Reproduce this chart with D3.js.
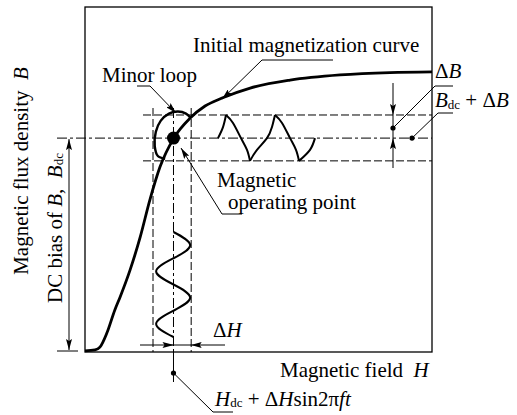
<!DOCTYPE html>
<html><head><meta charset="utf-8">
<script src="https://cdn.jsdelivr.net/npm/d3@7"></script>
<style>
html,body{margin:0;padding:0;background:#fff;}
svg{display:block;background:#fff;}
text{font-family:"Liberation Serif","Times New Roman","DejaVu Serif",serif;font-size:21px;fill:#000;}
</style></head><body>
<svg id="chart" width="517" height="415"></svg>
<script>
// ---------- data (arbitrary units: H and B on 0..10) ----------
const curveH = [0, 0.29, 0.43, 0.63, 0.86, 1.01, 1.30, 1.59, 1.87, 2.16, 2.56, 3.03, 3.46, 3.95, 4.76, 5.91, 7.35, 8.79, 10];
const curveB = [0.03, 0.06, 0.14, 0.55, 1.22, 1.59, 2.38, 3.33, 4.41, 5.36, 6.20, 6.78, 7.13, 7.36, 7.65, 7.88, 8.03, 8.10, 8.12];
const loopH = [2.31, 2.10, 2.01, 2.04, 2.18, 2.42, 2.68, 2.91, 3.05];
const loopB = [5.60, 5.68, 5.97, 6.38, 6.70, 6.91, 6.97, 6.91, 6.78];
const Hdc = 2.55, Bdc = 6.20;
const hGuides = [1.96, 3.06];          // vertical dashed lines (H)
const bGuides = [5.54, 6.87];          // horizontal dashed lines (B)
const sineT = [0, 0.25, 0.5, 0.75, 1, 1.25, 1.5, 1.75, 2];   // cycles, time runs downward
const sineH = [2.55, 3.03, 2.55, 2.05, 2.55, 3.03, 2.55, 2.05, 2.55];
const waveT = [0, 1.03, 1.65, 3.09, 4.74, 5.98, 6.60, 8.04, 10.10, 11.13, 11.75, 13.20, 14.85, 16.08, 16.70, 18.97, 20.0]; // ms, time runs right
const waveB = [6.20, 6.52, 6.87, 6.64, 6.20, 5.86, 5.54, 5.86, 6.20, 6.52, 6.87, 6.64, 6.20, 5.86, 5.54, 5.86, 6.20];
const xTitle = ["Magnetic field", "H"];
const yTitle = ["Magnetic flux density", "B"];
const biasTitle = ["DC bias of ", "B", ", ", "B", "dc"];

// ---------- scales ----------
const svg = d3.select("#chart");
const x = d3.scaleLinear().domain([0, 10]).range([85, 432]);
const y = d3.scaleLinear().domain([0, 10]).range([352, 7]);
const tY = d3.scaleLinear().domain([0, 2]).range([232, 337]);
const tX = d3.scaleLinear().domain([0, 20]).range([218, 315]);

const defs = svg.append("defs");
defs.append("marker").attr("id", "arr").attr("viewBox", "0 0 11 6")
  .attr("refX", 11).attr("refY", 3).attr("markerWidth", 11).attr("markerHeight", 6)
  .attr("markerUnits", "userSpaceOnUse").attr("orient", "auto-start-reverse")
  .append("path").attr("d", "M0,0 L11,3 L0,6 L2,3 Z").attr("fill", "#000");

function seg(x1, y1, x2, y2, opt = {}) {
  const l = svg.append("line").attr("x1", x1).attr("y1", y1).attr("x2", x2).attr("y2", y2)
    .attr("stroke", "#000").attr("stroke-width", opt.w || 1);
  if (opt.dash) l.attr("stroke-dasharray", opt.dash);
  if (opt.end) l.attr("marker-end", "url(#arr)");
  if (opt.start) l.attr("marker-start", "url(#arr)");
  return l;
}
function poly(pts, opt = {}) {
  const p = svg.append("polyline").attr("points", pts.map(d => d.join(",")).join(" "))
    .attr("fill", "none").attr("stroke", "#000").attr("stroke-width", opt.w || 1);
  if (opt.end) p.attr("marker-end", "url(#arr)");
  return p;
}
function dot(cx, cy, r) { svg.append("circle").attr("cx", cx).attr("cy", cy).attr("r", r).attr("fill", "#000"); }

// ---------- frame ----------
svg.append("rect").attr("x", x(0)).attr("y", y(10)).attr("width", x(10) - x(0)).attr("height", y(0) - y(10))
  .attr("fill", "none").attr("stroke", "#000").attr("stroke-width", 1.3);

// ---------- guide lines ----------
const DD = "10,3,3,3", DS = "8,3";
seg(57, y(Bdc), x(10), y(Bdc), { dash: DD });
bGuides.forEach(b => seg(143, y(b), x(10), y(b), { dash: DS }));
hGuides.forEach(h => seg(x(h), 108, x(h), y(0), { dash: DS }));
seg(x(Hdc), 108, x(Hdc), y(0), { dash: DD });
seg(x(Hdc), y(0), x(Hdc), 382);

// DC bias arrow
seg(57, y(0) - 1, 78, y(0) - 1);
seg(69, y(Bdc) + 1, 69, y(0) - 2, { start: true, end: true });

// ---------- curves ----------
const line = d3.line().x(d => x(d[0])).y(d => y(d[1]));
svg.append("path").datum(curveH.map((h, i) => [h, curveB[i]]))
  .attr("d", line.curve(d3.curveMonotoneX)).attr("fill", "none").attr("stroke", "#000").attr("stroke-width", 2.8);
svg.append("path").datum(loopH.map((h, i) => [h, loopB[i]]))
  .attr("d", d3.line().x(d => x(d[0])).y(d => y(d[1])).curve(d3.curveCatmullRom))
  .attr("fill", "none").attr("stroke", "#000").attr("stroke-width", 2.4);

// sine H(t)
svg.append("path").datum(sineT.map((t, i) => [sineH[i], t]))
  .attr("d", d3.line().x(d => x(d[0])).y(d => tY(d[1])).curve(d3.curveNatural))
  .attr("fill", "none").attr("stroke", "#000").attr("stroke-width", 2);

// B(t) wave, split at cusps
const wpts = waveT.map((t, i) => [t, waveB[i]]);
let start = 0;
const segs = [];
for (let i = 1; i < wpts.length - 1; i++) {
  if ((waveB[i] - waveB[i - 1]) * (waveB[i + 1] - waveB[i]) < 0) { segs.push(wpts.slice(start, i + 1)); start = i; }
}
segs.push(wpts.slice(start));
const wline = d3.line().x(d => tX(d[0])).y(d => y(d[1])).curve(d3.curveNatural);
segs.forEach(s => svg.append("path").attr("d", wline(s)).attr("fill", "none").attr("stroke", "#000").attr("stroke-width", 2));

// operating point
dot(x(Hdc), y(Bdc), 6.5);

// ---------- ΔH arrows ----------
const yH = 345;
seg(140, yH, x(Hdc), yH, { end: true });
seg(225, yH, x(hGuides[1]) - 0.5, yH, { end: true });
seg(x(Hdc), yH, x(hGuides[1]), yH);

// ---------- ΔB arrows ----------
const xB = 393;
seg(xB, 83, xB, y(bGuides[1]), { end: true });
seg(xB, 168, xB, y(Bdc), { end: true });
seg(xB, y(bGuides[1]), xB, y(Bdc));

// ---------- leaders ----------
// Initial magnetization curve
poly([[333, 60], [262, 60], [x(3.95), y(7.36) + 1]], { end: true });
// Minor loop
poly([[137, 86], [150, 86], [176, 113]], { end: true });
// Magnetic operating point
poly([[242, 214], [222, 214], [181, 148]], { end: true });
// ΔB
dot(xB, 128, 2.6);
poly([[xB, 128], [435, 86], [453, 86]]);
// Bdc + ΔB
dot(412, y(Bdc), 2.6);
poly([[412, y(Bdc)], [438, 113], [453, 113]]);
// Hdc + ΔH sin
dot(x(Hdc), 373, 2.6);
poly([[x(Hdc), 373], [213, 412], [233, 412]]);

// ---------- texts ----------
function txt(xx, yy) { return svg.append("text").attr("x", xx).attr("y", yy); }
txt(193, 52).text("Initial magnetization curve");
txt(102, 82).text("Minor loop");
txt(217, 187).attr("font-size", 20.5).text("Magnetic");
txt(228, 209).attr("font-size", 20.5).text("operating point");

const tdb = txt(435, 78);
tdb.append("tspan").text("Δ");
tdb.append("tspan").attr("font-style", "italic").text("B");

const tbdc = txt(435, 107);
tbdc.append("tspan").attr("font-style", "italic").text("B");
tbdc.append("tspan").attr("font-size", 13).attr("dy", 2).text("dc");
tbdc.append("tspan").attr("dy", -2).text(" + Δ");
tbdc.append("tspan").attr("font-style", "italic").text("B");

const tdh = txt(213, 337);
tdh.append("tspan").text("Δ");
tdh.append("tspan").attr("font-style", "italic").text("H");

const thdc = txt(215, 406);
thdc.append("tspan").attr("font-style", "italic").text("H");
thdc.append("tspan").attr("font-size", 13).attr("dy", 1).text("dc");
thdc.append("tspan").attr("dy", -1).text(" + Δ");
thdc.append("tspan").attr("font-style", "italic").text("H");
thdc.append("tspan").text("sin2π");
thdc.append("tspan").attr("font-style", "italic").text("ft");

const tx = txt(280, 377);
tx.append("tspan").text(xTitle[0] + "\u00a0\u00a0");
tx.append("tspan").attr("font-style", "italic").text(xTitle[1]);

const ty = svg.append("text").attr("transform", "translate(28,171) rotate(-90)").attr("text-anchor", "middle");
ty.append("tspan").text(yTitle[0] + "\u00a0\u00a0");
ty.append("tspan").attr("font-style", "italic").text(yTitle[1]);

const tb = svg.append("text").attr("transform", "translate(62,228) rotate(-90)").attr("text-anchor", "middle").attr("font-size", 20);
tb.append("tspan").text(biasTitle[0]);
tb.append("tspan").attr("font-style", "italic").text(biasTitle[1]);
tb.append("tspan").text(biasTitle[2] + "\u00a0");
tb.append("tspan").attr("font-style", "italic").text(biasTitle[3]);
tb.append("tspan").attr("font-size", 13).attr("dy", 1).text(biasTitle[4]);
</script>
</body></html>
